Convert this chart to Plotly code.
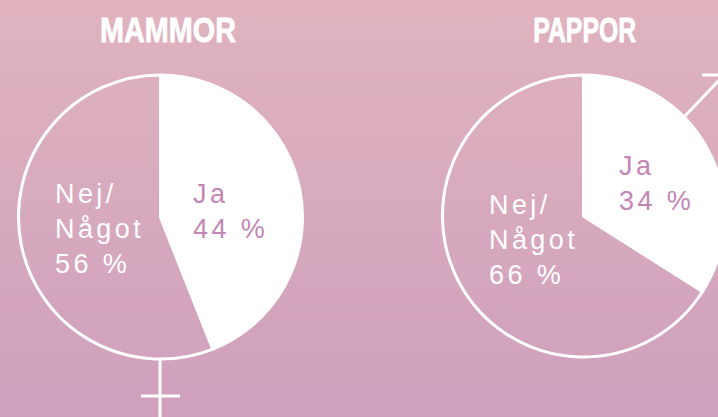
import plotly.graph_objects as go

W, H = 740, 417
titles = ["MAMMOR", "PAPPOR"]
labels = ["Ja", "Nej/<br>Något"]
mammor_values = [44, 56]
pappor_values = [34, 66]

PINK = "#C486B4"
fig = go.Figure()

# background gradient
fig.add_trace(go.Scatter(
    x=[0, 1, 1, 0, 0], y=[0, 0, 1, 1, 0], mode="none", fill="toself",
    fillgradient=dict(type="vertical",
                      colorscale=[[0, "#CFA0BC"], [1, "#E0B3BF"]]),
    hoverinfo="skip", showlegend=False))


def dom(cx, cy, r):
    return dict(x=[(cx - r) / W, (cx + r) / W],
                y=[1 - (cy + r) / H, 1 - (cy - r) / H])


def pie(values, cx, cy, r):
    fig.add_trace(go.Pie(
        values=values, labels=["Ja", "Nej"], sort=False, direction="clockwise",
        rotation=0, domain=dom(cx, cy, r), textinfo="none", hoverinfo="skip",
        marker=dict(colors=["#FFFFFF", "rgba(0,0,0,0)"],
                    line=dict(color="#FFFFFF", width=3)),
        showlegend=False))


pie(mammor_values, 160.5, 217, 142)
pie(pappor_values, 583.5, 216, 141)

ann = []


def txt(text, x, y, color, size=27):
    ann.append(dict(text=text, x=x / W, y=1 - y / H, xref="paper", yref="paper",
                    xanchor="left", yanchor="top", align="left", showarrow=False,
                    font=dict(family="Liberation Sans", size=size, color=color)))


txt(f"{labels[0]}<br>{mammor_values[0]} %", 191, 177, PINK)
txt(f"{labels[1]}<br>{mammor_values[1]} %", 53, 177, "#FFFFFF")
txt(f"{labels[0]}<br>{pappor_values[0]} %", 617, 149, PINK)
txt(f"{labels[1]}<br>{pappor_values[1]} %", 487, 188, "#FFFFFF")

for t, cx in zip(titles, [168, 584.5]):
    ann.append(dict(text=f"<b>{t}</b>", x=cx / W, y=1 - 29 / H, xref="paper", yref="paper",
                    xanchor="center", yanchor="middle", showarrow=False,
                    font=dict(family="Liberation Sans", size=36, color="#FFFFFF")))

shapes = []


def seg(x0, y0, x1, y1):
    shapes.append(dict(type="line", xref="paper", yref="paper", layer="above",
                       x0=x0 / W, x1=x1 / W, y0=1 - y0 / H, y1=1 - y1 / H,
                       line=dict(color="#FFFFFF", width=3)))


seg(160, 358, 160, 417)   # female sign stem
seg(141, 396, 180, 396)   # female sign bar
seg(685, 116, 724, 75)    # male sign shaft
seg(702, 75, 726, 75)     # male sign head

fig.update_layout(
    width=W, height=H, margin=dict(l=0, r=0, t=0, b=0), autosize=False,
    paper_bgcolor="rgba(0,0,0,0)", plot_bgcolor="rgba(0,0,0,0)",
    xaxis=dict(range=[0, 1], visible=False, fixedrange=True),
    yaxis=dict(range=[0, 1], visible=False, fixedrange=True),
    annotations=ann, shapes=shapes,
)

post = """
var s=document.createElement('style');
s.textContent="html,body{margin:0;padding:0;overflow:hidden;background:#D8ABBE}"
+".annotation-text{letter-spacing:3.4px}"
+".annotation[data-index='4'] .annotation-text,.annotation[data-index='5'] .annotation-text{letter-spacing:0;stroke:#fff;stroke-width:.8px;transform-box:fill-box;transform-origin:center;transform:scaleX(.8)}"
+".annotation[data-index='5'] .annotation-text{transform:scaleX(.69)}";
document.head.appendChild(s);
"""
fig.write_html("out.html", post_script=post, config={"displayModeBar": False})
